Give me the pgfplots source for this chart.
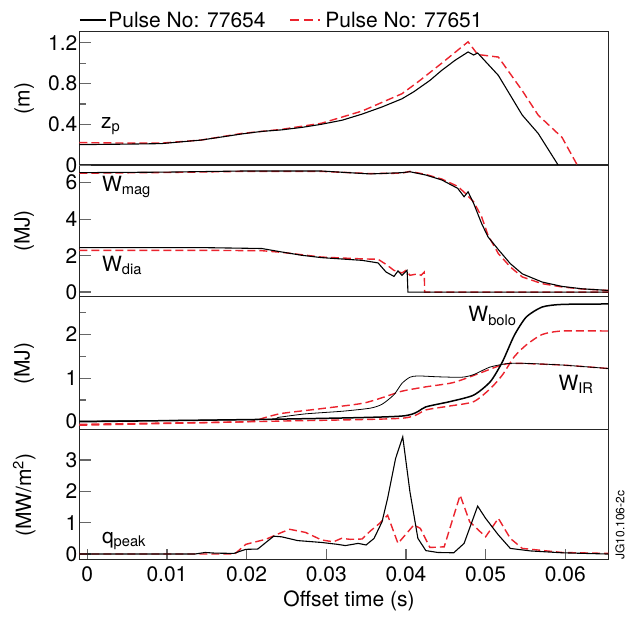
\documentclass[border=0pt]{standalone}
\usepackage{fontspec}
\setmainfont{TeX Gyre Heros}
\usepackage{pgfplots}
\pgfplotsset{compat=1.18}
\definecolor{pred}{RGB}{235,35,45}
\begin{document}
\begin{tikzpicture}[font=\fontsize{10.5}{12}\selectfont]
\pgfplotsset{
  panel/.style={
    scale only axis, width=264.5pt, xmin=-0.001, xmax=0.0654,
    anchor=south west, axis line style={black!85, line width=0.5pt},
    xtick=\empty, tick align=inside, ytick pos=left,
    major tick length=5.7pt, minor tick length=3.3pt,
    every tick/.style={gray!80!black, line width=0.6pt},
    /pgf/number format/assume math mode=true,
    yticklabel style={inner xsep=0.8pt, font=\fontsize{10.5}{12}\selectfont},
    ylabel style={at={(axis description cs:-0.104,0.5)}, anchor=center, font=\fontsize{10.5}{12}\selectfont},
  },
  blk/.style={black, line width=0.55pt},
  rd/.style={pred, line width=0.7pt, dash pattern=on 4pt off 2pt},
}
\path[use as bounding box] (-39.65pt,-28.5pt) rectangle (274.85pt,280pt);

% Panel 4: q_peak
\begin{axis}[panel, at={(0pt,0pt)}, height=65pt, ymin=-0.19, ymax=3.96,
  ytick={0,1,2,3}, ylabel={(MW/m\textsuperscript{2})},
  xtick={0,0.01,0.02,0.03,0.04,0.05,0.06}, xtick pos=bottom,
  xticklabels={0,0.01,0.02,0.03,0.04,0.05,0.06}, scaled x ticks=false,
  xticklabel style={font=\fontsize{10.5}{12}\selectfont},
  xlabel={Offset time (s)},
  xlabel style={at={(axis description cs:0.51,0)}, yshift=-20.5pt, anchor=center, font=\fontsize{10.5}{12}\selectfont}]
\addplot[rd] coordinates {(-0.001,0) (0.0185,0.0) (0.0199,0.31) (0.0224,0.47) (0.0244,0.69) (0.0254,0.79) (0.0274,0.69) (0.0294,0.45) (0.0309,0.39) (0.0319,0.5) (0.033,0.47) (0.0345,0.48) (0.0355,0.73) (0.0367,0.98) (0.0377,1.24) (0.039,0.34) (0.041,0.93) (0.0418,0.82) (0.043,0.21) (0.0448,0.23) (0.0468,1.88) (0.048,1.03) (0.05,0.55) (0.0516,1.14) (0.0531,0.5) (0.0546,0.18) (0.0596,0.05) (0.0654,0.02)};
\addplot[blk] coordinates {(-0.001,0) (0.0135,0.0) (0.0148,0.05) (0.016,0.03) (0.0184,0.02) (0.0199,0.15) (0.0214,0.16) (0.0234,0.57) (0.0244,0.55) (0.0264,0.43) (0.0294,0.37) (0.0314,0.31) (0.0324,0.27) (0.034,0.34) (0.035,0.29) (0.036,0.5) (0.037,1.03) (0.0377,1.78) (0.0387,3.05) (0.0396,3.74) (0.0405,1.99) (0.0415,0.5) (0.0425,0.11) (0.044,0.05) (0.046,0.04) (0.0473,0.34) (0.049,1.53) (0.05,1.14) (0.0516,0.61) (0.0531,0.18) (0.0556,0.1) (0.0596,0.04) (0.0654,0.0)};
\node[anchor=base west, inner sep=0pt] at (axis cs:0.0018,0.34) {q\textsubscript{peak}};
\end{axis}

% Panel 3: W_bolo, W_IR
\begin{axis}[panel, at={(0pt,65pt)}, height=66.5pt, ymin=-0.19, ymax=2.86,
  ytick={0,1,2}, minor ytick={0.5,1.5,2.5}, ylabel={(MJ)}]
\addplot[rd, smooth, tension=0.4] coordinates {(-0.001,-0.06) (0.01,-0.03) (0.02,0.0) (0.0224,0.1) (0.0244,0.19) (0.0294,0.3) (0.0345,0.42) (0.037,0.55) (0.0395,0.7) (0.0425,0.8) (0.046,0.9) (0.0495,1.13) (0.052,1.3) (0.0536,1.34) (0.0596,1.30) (0.0654,1.22)};
\addplot[rd, smooth, tension=0.4] coordinates {(-0.001,-0.08) (0.0244,0.015) (0.0395,0.08) (0.0425,0.27) (0.0455,0.36) (0.0485,0.46) (0.0506,0.76) (0.0521,1.07) (0.0536,1.49) (0.0551,1.76) (0.0571,2.0) (0.0596,2.08) (0.0654,2.08)};
\addplot[black, line width=0.4pt, smooth, tension=0.4] coordinates {(-0.001,0.015) (0.022,0.05) (0.024,0.1) (0.0274,0.18) (0.032,0.24) (0.0355,0.31) (0.037,0.4) (0.0385,0.62) (0.0395,0.88) (0.0405,1.02) (0.0415,1.05) (0.044,1.03) (0.047,1.02) (0.0485,1.08) (0.0505,1.25) (0.0526,1.33) (0.0546,1.34) (0.0596,1.30) (0.0654,1.22)};
\addplot[black, line width=0.75pt, smooth, tension=0.4] coordinates {(-0.001,0.0) (0.0244,0.06) (0.0395,0.13) (0.0425,0.34) (0.0455,0.46) (0.0485,0.61) (0.0506,0.92) (0.0521,1.37) (0.0536,1.98) (0.0551,2.40) (0.0571,2.63) (0.0596,2.69) (0.0654,2.70)};
\node[anchor=base west, inner sep=0pt] at (axis cs:0.0478,2.29) {W\textsubscript{bolo}};
\node[anchor=base west, inner sep=0pt] at (axis cs:0.0591,0.725) {W\textsubscript{IR}};
\end{axis}

% Panel 2: W_mag, W_dia
\begin{axis}[panel, at={(0pt,131.5pt)}, height=66pt, ymin=-0.27, ymax=6.97,
  ytick={0,2,4,6}, ylabel={(MJ)}]
\addplot[rd] coordinates {(-0.001,6.52) (0.01,6.56) (0.0194,6.62) (0.0294,6.62) (0.0355,6.5) (0.0395,6.52) (0.0405,6.62) (0.0425,6.45) (0.0445,6.2) (0.0465,5.8) (0.0475,5.4) (0.0485,4.95) (0.0495,4.13) (0.0503,3.12) (0.0516,2.11) (0.0531,1.38) (0.0546,0.83) (0.0571,0.46) (0.0596,0.28) (0.0621,0.17) (0.0654,0.09)};
\addplot[rd] coordinates {(-0.001,2.29) (0.0143,2.29) (0.0219,2.27) (0.0244,2.18) (0.0294,1.92) (0.0345,1.82) (0.0365,1.8) (0.0375,1.52) (0.0385,1.19) (0.0395,1.05) (0.04,1.19) (0.0405,0.92) (0.0415,1.0) (0.0419,0.92) (0.0423,1.1) (0.04235,0.0) (0.0654,0.0)};
\addplot[blk] coordinates {(-0.001,6.55) (0.01,6.58) (0.0194,6.64) (0.0294,6.64) (0.0355,6.48) (0.0395,6.55) (0.0405,6.6) (0.0425,6.42) (0.0445,6.15) (0.0465,5.69) (0.0473,5.23) (0.0478,5.5) (0.0485,4.86) (0.0495,3.76) (0.0503,3.03) (0.0516,2.33) (0.0531,1.56) (0.0546,1.0) (0.0571,0.55) (0.0596,0.31) (0.0621,0.18) (0.0654,0.09)};
\addplot[blk] coordinates {(-0.001,2.44) (0.0143,2.44) (0.0219,2.39) (0.0244,2.2) (0.0269,2.02) (0.0294,1.89) (0.0345,1.74) (0.0365,1.6) (0.0375,1.1) (0.0385,0.86) (0.039,1.16) (0.0395,0.92) (0.04015,1.19) (0.04025,0.0) (0.0654,0.0)};
\node[anchor=base west, inner sep=0pt] at (axis cs:0.0018,5.53) {W\textsubscript{mag}};
\node[anchor=base west, inner sep=0pt] at (axis cs:0.0018,1.13) {W\textsubscript{dia}};
\end{axis}

% Panel 1: z_p
\begin{axis}[panel, at={(0pt,197.5pt)}, height=66.7pt, ymin=0, ymax=1.31,
  ytick={0,0.4,0.8,1.2}, minor ytick={0.2,0.6,1.0}, ylabel={(m)}]
\addplot[rd] coordinates {(-0.001,0.22) (0.005,0.215) (0.0093,0.215) (0.0143,0.245) (0.0194,0.31) (0.0244,0.35) (0.0294,0.41) (0.0345,0.53) (0.0395,0.70) (0.0415,0.815) (0.0445,1.0) (0.0478,1.21) (0.049,1.085) (0.0516,1.06) (0.0546,0.73) (0.0566,0.49) (0.0596,0.27) (0.0615,0.0)};
\addplot[blk] coordinates {(-0.001,0.20) (0.005,0.205) (0.0093,0.21) (0.0143,0.245) (0.0194,0.305) (0.0219,0.33) (0.0244,0.345) (0.027,0.37) (0.0294,0.40) (0.032,0.44) (0.0345,0.50) (0.037,0.57) (0.0395,0.65) (0.041,0.72) (0.043,0.83) (0.0445,0.93) (0.0462,1.03) (0.0478,1.11) (0.0485,1.08) (0.049,1.10) (0.0516,0.88) (0.0546,0.49) (0.0566,0.31) (0.0591,0.0)};
\node[anchor=base west, inner sep=0pt] at (axis cs:0.0017,0.36) {z\textsubscript{p}};
\end{axis}

% legend
\draw[black, line width=0.6pt] (0.35pt,270pt) -- (13.35pt,270pt);
\node[anchor=west, inner sep=0pt] at (14.35pt,270pt) {Pulse No: 77654};
\draw[pred, line width=0.7pt, dash pattern=on 4.5pt off 2.5pt] (105.35pt,270pt) -- (120.35pt,270pt);
\node[anchor=west, inner sep=0pt] at (122.85pt,270pt) {Pulse No: 77651};
% code
\node[rotate=90, anchor=north west, inner sep=0pt, font=\fontsize{6}{7}\selectfont] at (267.85pt,0pt) {JG10.106-2c};
\end{tikzpicture}
\end{document}
